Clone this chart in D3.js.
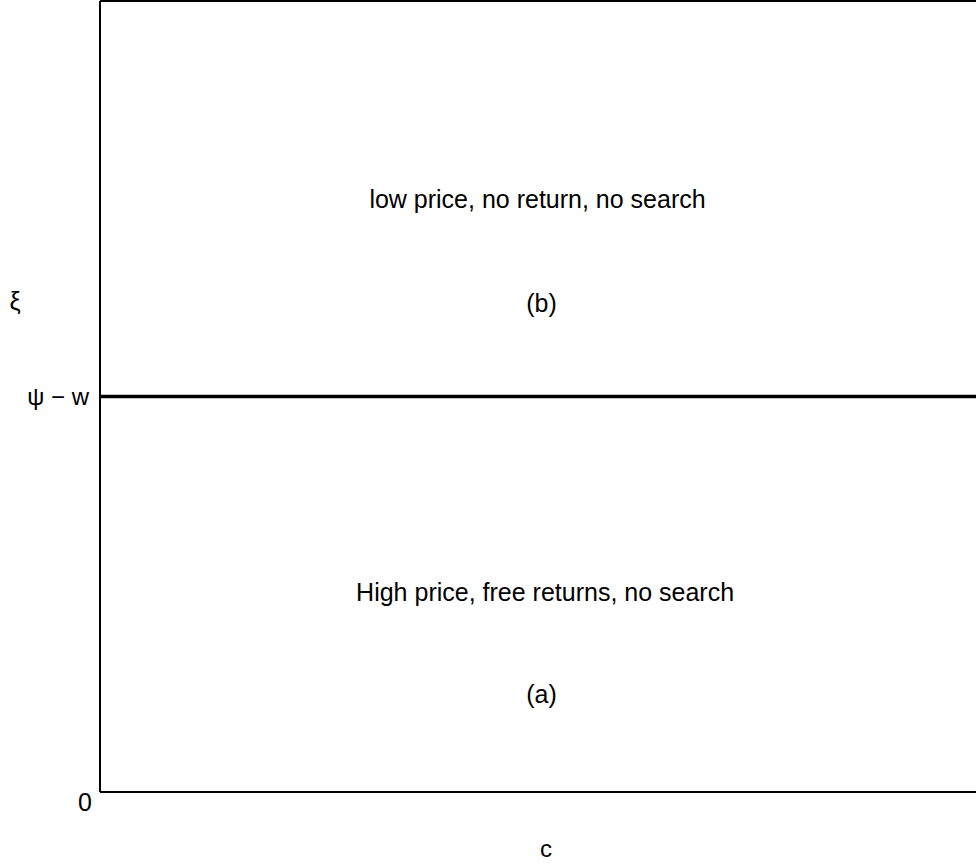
<!DOCTYPE html>
<html>
<head>
<meta charset="utf-8">
<script src="https://cdn.jsdelivr.net/npm/d3@7"></script>
<style>
  html, body { margin: 0; padding: 0; background: #fff; }
  svg { display: block; }
  text { font-family: "Liberation Sans", Arial, sans-serif; fill: #000; }
</style>
</head>
<body>
<div id="chart"></div>
<script>
// ---- data ----
const xDomain = [0, 1];
const yDomain = [0, 1];
const thresholdValue = 0.5;            // ψ − w
const yTickValues = [0, 0.5];
const yTickLabels = ["0", "ψ − w"];
const regionLabels = ["low price, no return, no search", "(b)", "High price, free returns, no search", "(a)"];
const regionLabelX = [0.4905, 0.495, 0.499, 0.495];
const regionLabelY = [0.75, 0.618, 0.253, 0.123];
const xAxisTitle = "c";
const yAxisTitle = "ξ";

// ---- layout ----
const W = 976, H = 867;
const margin = { left: 100, top: 1, bottomY: 792, right: 992 };

const svg = d3.select("#chart").append("svg").attr("width", W).attr("height", H);

const x = d3.scaleLinear().domain(xDomain).range([margin.left, margin.right]);
const y = d3.scaleLinear().domain(yDomain).range([margin.bottomY, margin.top]);

// frame (left, bottom, top)
svg.append("line").attr("x1", x(0)).attr("x2", x(0)).attr("y1", y(0)).attr("y2", y(1))
  .attr("stroke", "#000").attr("stroke-width", 2);
svg.append("line").attr("x1", x(0)).attr("x2", x(1)).attr("y1", y(0)).attr("y2", y(0))
  .attr("stroke", "#000").attr("stroke-width", 2);
svg.append("line").attr("x1", x(0)).attr("x2", x(1)).attr("y1", y(1)).attr("y2", y(1))
  .attr("stroke", "#000").attr("stroke-width", 2);

// threshold line
svg.append("line").attr("x1", x(0)).attr("x2", x(1))
  .attr("y1", y(thresholdValue)).attr("y2", y(thresholdValue))
  .attr("stroke", "#000").attr("stroke-width", 3.5);

// y tick labels
svg.append("text").attr("x", x(0) - 15).attr("y", y(yTickValues[0]) + 19)
  .attr("text-anchor", "middle").attr("font-size", 25).text(yTickLabels[0]);
svg.append("text").attr("x", x(0) - 11).attr("y", y(yTickValues[1]))
  .attr("dy", "0.35em").attr("text-anchor", "end").attr("font-size", 24).text(yTickLabels[1]);

// region labels
svg.selectAll("text.region").data(regionLabels).enter().append("text")
  .attr("class", "region")
  .attr("x", (d, i) => x(regionLabelX[i]))
  .attr("y", (d, i) => y(regionLabelY[i]))
  .attr("dy", "0.35em")
  .attr("text-anchor", "middle")
  .attr("font-size", 25)
  .text(d => d);

// axis titles
svg.append("text").attr("x", x(0.5)).attr("y", 857)
  .attr("text-anchor", "middle").attr("font-size", 24).text(xAxisTitle);
svg.append("text").attr("x", 15).attr("y", y(0.62))
  .attr("dy", "0.35em").attr("text-anchor", "middle").attr("font-size", 25).text(yAxisTitle);
</script>
</body>
</html>
